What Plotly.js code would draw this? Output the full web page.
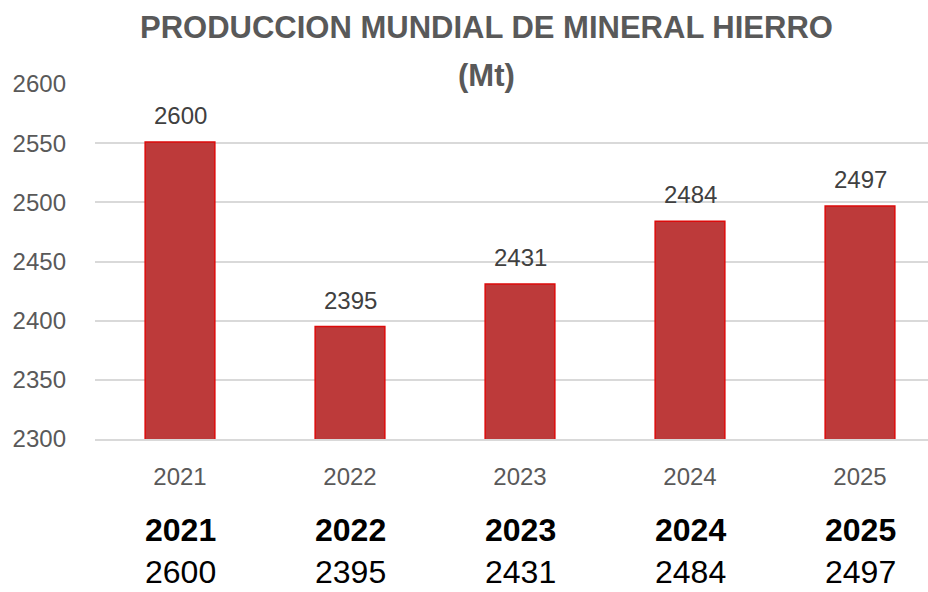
<!DOCTYPE html>
<html>
<head>
<meta charset="utf-8">
<script src="https://cdn.plot.ly/plotly-3.0.1.min.js"></script>
<style>html,body{margin:0;padding:0;background:#fff;}#chart{width:928px;height:592px;}</style>
</head>
<body>
<div id="chart"></div>
<script>
// Data
const years = ['2021', '2022', '2023', '2024', '2025'];
const production = [2600, 2395, 2431, 2484, 2497];        // labelled values (Mt)
const barHeights = [2551, 2395, 2431, 2484, 2497];        // bar heights as drawn in the picture
const yTicks = [2300, 2350, 2400, 2450, 2500, 2550, 2600];

const titleLine1 = 'PRODUCCION MUNDIAL DE MINERAL HIERRO';
const titleLine2 = '(Mt)';

const font = 'Liberation Sans, Arial, sans-serif';
// plot area in pixels: left 95, top 84, bottom 439, width 833
const PL = 95, PT = 84, PB = 439, PW = 833, PH = PB - PT;
const px2paperY = p => (PB - p) / PH;
const px2paperX = p => (p - PL) / PW;

const trace = {
  type: 'bar',
  x: years,
  y: barHeights,
  width: 0.41,
  marker: {color: '#bd3a3a', line: {color: '#dd0a0a', width: 1.5}},
  hoverinfo: 'skip'
};

const annotations = [];
years.forEach((yr, i) => {
  // data labels
  annotations.push({
    x: i, y: barHeights[i], xref: 'x', yref: 'y',
    text: String(production[i]), showarrow: false,
    yanchor: 'bottom', yshift: 11,
    font: {family: font, size: 24, color: '#404040'}
  });
  // table below chart
  annotations.push({
    x: i, y: px2paperY(530), xref: 'x', yref: 'paper',
    text: '<b>' + yr + '</b>', showarrow: false,
    yanchor: 'middle',
    font: {family: font, size: 32, color: '#000000'}
  });
  annotations.push({
    x: i, y: px2paperY(572), xref: 'x', yref: 'paper',
    text: String(production[i]), showarrow: false,
    yanchor: 'middle',
    font: {family: font, size: 32, color: '#000000'}
  });
});
// title lines
annotations.push({
  x: px2paperX(486), y: px2paperY(28), xref: 'paper', yref: 'paper',
  yanchor: 'middle', xanchor: 'center',
  text: '<b>' + titleLine1 + '</b>', showarrow: false,
  font: {family: font, size: 31, color: '#595959'}
});
annotations.push({
  x: px2paperX(486), y: px2paperY(75), xref: 'paper', yref: 'paper',
  yanchor: 'middle', xanchor: 'center',
  text: '<b>' + titleLine2 + '</b>', showarrow: false,
  font: {family: font, size: 31, color: '#595959'}
});

const layout = {
  width: 928, height: 592,
  margin: {l: PL, r: 928 - PL - PW, t: PT, b: 592 - PB},
  paper_bgcolor: '#ffffff', plot_bgcolor: '#ffffff',
  showlegend: false,
  xaxis: {
    type: 'category',
    range: [-0.5, 4.4],
    showgrid: false,
    showline: true, linecolor: '#d9d9d9', linewidth: 2,
    ticks: '',
    ticklabelstandoff: 15,
    tickfont: {family: font, size: 24, color: '#595959'},
    fixedrange: true
  },
  yaxis: {
    range: [2300, 2600],
    tickvals: yTicks,
    ticktext: yTicks.map(String),
    showgrid: true, gridcolor: '#d9d9d9', gridwidth: 2,
    zeroline: false, showline: false, ticks: '',
    ticklabelstandoff: 28,
    tickfont: {family: font, size: 24, color: '#595959'},
    fixedrange: true
  },
  annotations: annotations
};

Plotly.newPlot('chart', [trace], layout, {displayModeBar: false, staticPlot: true});
</script>
</body>
</html>
